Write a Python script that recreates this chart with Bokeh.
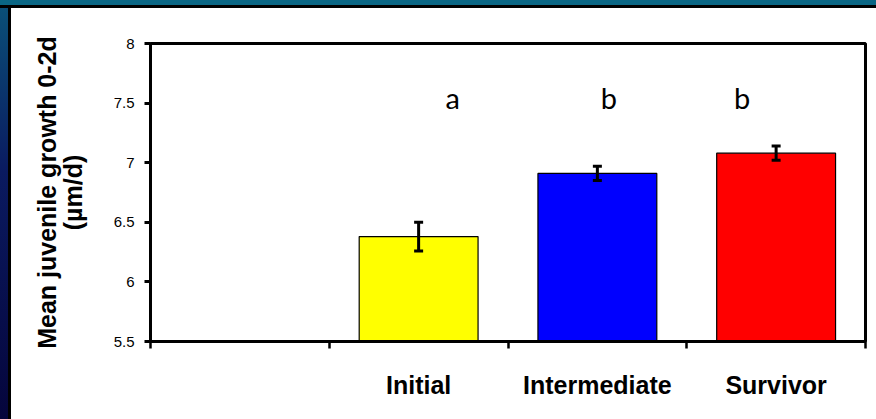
from bokeh.plotting import figure
from bokeh.models import ColumnDataSource, FixedTicker, Whisker, TeeHead, Range1d, Div
from bokeh.layouts import column, row
from bokeh.core.properties import value
from bokeh.embed import file_html
from bokeh.resources import INLINE

# ---- data ----
categories = ["", "Initial", "Intermediate", "Survivor"]
groups = ["Initial", "Intermediate", "Survivor"]
means = [6.38, 6.91, 7.08]
errors = [0.12, 0.06, 0.06]
bar_colors = ["#FFFF00", "#0000FF", "#FF0000"]
letters = ["a", "b", "b"]
letter_x = [1.69, 2.565, 3.31]
letter_y = [7.55, 7.55, 7.55]
yticks = [5.5, 6, 6.5, 7, 7.5, 8]
ytick_labels = ["5.5", "6", "6.5", "7", "7.5", "8"]
y_title = "Mean juvenile growth 0-2d\n(\u00b5m/d)"

xpos = [categories.index(g) + 0.5 for g in groups]
src = ColumnDataSource(dict(
    x=xpos, mean=means, color=bar_colors,
    upper=[m + e for m, e in zip(means, errors)],
    lower=[m - e for m, e in zip(means, errors)],
))

p = figure(width=865, height=411,
           x_range=Range1d(0, len(categories)), y_range=Range1d(yticks[0], yticks[-1]),
           output_backend="svg", toolbar_location=None,
           min_border_left=139, min_border_right=11, min_border_top=35, min_border_bottom=78)
p.background_fill_color = "white"
p.border_fill_color = "white"
p.outline_line_color = "black"
p.outline_line_width = 3
p.xgrid.visible = False
p.ygrid.visible = False

p.vbar(x="x", top="mean", bottom=yticks[0], width=0.665, fill_color="color",
       line_color="black", line_width=1.2, source=src)

p.add_layout(Whisker(source=src, base="x", upper="upper", lower="lower",
                     line_color="black", line_width=3, level="overlay",
                     upper_head=TeeHead(size=9, line_width=3, line_color="black"),
                     lower_head=TeeHead(size=9, line_width=3, line_color="black")))

p.text(x=letter_x, y=letter_y, text=letters, text_font=value("Lato"),
       text_font_size="29px", text_align="center", text_baseline="alphabetic",
       text_color="black")

# x axis: labels at centres, ticks at boundaries
xa = p.xaxis[0]
xa.ticker = FixedTicker(ticks=[i + 0.5 for i in range(len(categories))],
                        minor_ticks=list(range(len(categories) + 1)))
xa.major_label_overrides = {i + 0.5: c for i, c in enumerate(categories)}
xa.major_tick_line_color = None
xa.major_tick_out = 0
xa.major_tick_in = 0
xa.minor_tick_line_color = "black"
xa.minor_tick_line_width = 2.5
xa.minor_tick_out = 7
xa.minor_tick_in = 0
xa.axis_line_color = "black"
xa.axis_line_width = 3
xa.major_label_text_font = "Liberation Sans"
xa.major_label_text_font_style = "bold"
xa.major_label_text_font_size = "25px"
xa.major_label_text_color = "black"
xa.major_label_standoff = 22

ya = p.yaxis[0]
ya.ticker = FixedTicker(ticks=yticks)
ya.major_label_overrides = dict(zip(yticks, ytick_labels))
ya.minor_tick_line_color = None
ya.major_tick_line_color = "black"
ya.major_tick_line_width = 3
ya.major_tick_out = 6
ya.major_tick_in = 0
ya.axis_line_color = "black"
ya.axis_line_width = 3
ya.major_label_text_font = "Liberation Sans"
ya.major_label_text_font_size = "15px"
ya.major_label_text_color = "black"
ya.major_label_standoff = 10
ya.axis_label = y_title
ya.axis_label_text_font = "Liberation Sans"
ya.axis_label_text_font_style = "bold"
ya.axis_label_text_font_size = "25px"
ya.axis_label_text_line_height = 0.9
ya.axis_label_text_color = "black"
ya.axis_label_standoff = 24

# slide frame bands
top_band = Div(text="", width=876, height=8, margin=0,
               styles={"background": "linear-gradient(to bottom,#0a6684 0,#0a6684 5px,#000 5px,#000 8px)"})
left_band = Div(text="", width=11, height=411, margin=0,
                styles={"background": "linear-gradient(#000,#000) 8px 0/3px 100% no-repeat,"
                                      "linear-gradient(to bottom,#0a4f78,#0a1a60 40%,#05053c)"})
layout = column(top_band, row(left_band, p, spacing=0), spacing=0)

open("out.html", "w").write(file_html(layout, INLINE, title="Mean juvenile growth"))
